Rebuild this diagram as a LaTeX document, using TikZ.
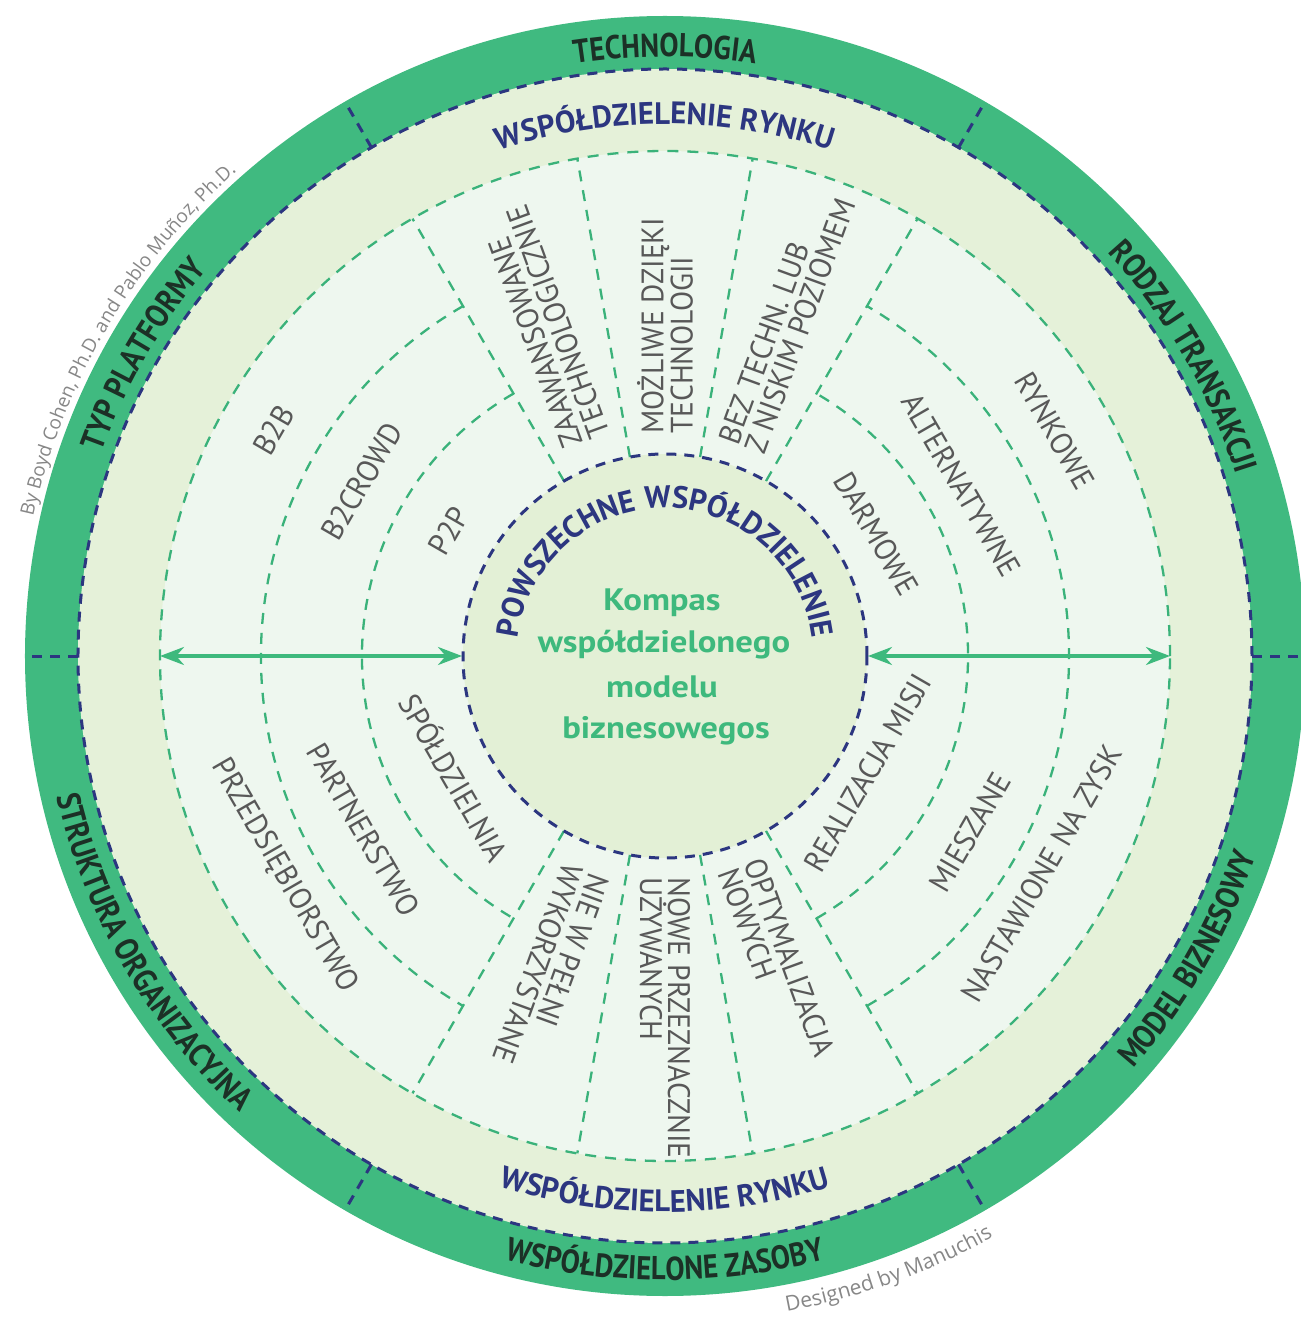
\documentclass[tikz,border=0pt]{standalone}
\usepackage{fontspec}
\usetikzlibrary{decorations.text,arrows.meta}
\newfontfamily\ringfont[FakeStretch=0.87]{PT Sans}
\newfontfamily\bandfont[FakeStretch=0.99]{PT Sans}
\newfontfamily\labfont[FakeStretch=0.95]{PT Sans}
\newfontfamily\centerfont[FakeStretch=1.12]{PT Sans}
\newfontfamily\creditfont{Open Sans}
\definecolor{ringgreen}{RGB}{64,186,128}
\definecolor{bandyellow}{RGB}{229,241,217}
\definecolor{innermint}{RGB}{238,247,239}
\definecolor{centerfill}{RGB}{227,240,214}
\definecolor{darkblue}{RGB}{44,54,128}
\definecolor{dashgreen}{RGB}{58,178,122}
\definecolor{labelgray}{RGB}{88,88,88}
\definecolor{ringtext}{RGB}{28,48,38}
\definecolor{creditgray}{RGB}{135,135,135}
\definecolor{centergreen}{RGB}{62,185,125}
% #1 centre angle, #2 half span, #3 radius, #4 format, #5 text
\newcommand\cwtext[5]{%
  \path[decorate,decoration={text along path,text align=center,text={|#4|#5}}]
    ({#1+#2}:#3) arc[start angle={#1+#2},end angle={#1-#2},radius=#3];}
\newcommand\ccwtext[5]{%
  \path[decorate,decoration={text along path,text align=center,text={|#4|#5}}]
    ({#1-#2}:#3) arc[start angle={#1-#2},end angle={#1+#2},radius=#3];}
\newcommand\ringfmt{\ringfont\bfseries\fontsize{33}{33}\selectfont\color{ringtext}}
\newcommand\bandfmt{\bandfont\bfseries\fontsize{31}{31}\selectfont\color{darkblue}}
\newcommand\credfmt{\creditfont\fontsize{19}{19}\selectfont\color{creditgray}}
\newcommand\credbfmt{\creditfont\fontsize{21}{21}\selectfont\color{creditgray}}
\begin{document}
\begin{tikzpicture}[
  bluedash/.style={draw=darkblue,line width=3pt,dash pattern=on 10pt off 8pt},
  greendash/.style={draw=dashgreen,line width=2.3pt,dash pattern=on 11pt off 9pt},
  lab/.style={text=labelgray,font={\labfont\fontsize{31}{28}\selectfont},inner sep=0pt,align=left},
  ctext/.style={text=centergreen,font={\centerfont\bfseries\fontsize{31}{31}\selectfont},inner sep=0pt,anchor=base},
  compassarrow/.style={draw=centergreen,line width=3.5pt,
    {Stealth[length=24pt,width=18pt]}-{Stealth[length=24pt,width=18pt]}}
]
\useasboundingbox (-665pt,-664pt) rectangle (636pt,656pt);
\fill[white] (-665pt,-664pt) rectangle (636pt,656pt);
% discs
\fill[ringgreen] (0,0) circle[radius=640pt];
\fill[bandyellow] (0,0) circle[radius=587pt];
\fill[innermint] (0,0) circle[radius=505pt];
\fill[centerfill] (0,0) circle[radius=202pt];
% green dashed structure
\draw[greendash] (0,0) circle[radius=505pt];
\foreach \r in {303,404}{
  \draw[greendash] (120:\r pt) arc[start angle=120,end angle=240,radius=\r pt];
  \draw[greendash] (-60:\r pt) arc[start angle=-60,end angle=60,radius=\r pt];
}
\foreach \a in {60,80,100,120,240,260,280,300}
  \draw[greendash] (\a:202pt) -- (\a:505pt);
% dark blue dashed
\draw[bluedash] (0,0) circle[radius=587pt];
\draw[bluedash] (0,0) circle[radius=202pt];
\foreach \a in {0,60,120,180,240,300}
  \draw[bluedash] (\a:587pt) -- (\a:640pt);
% arrows
\coordinate (LA) at (180:505pt);
\coordinate (LB) at (180:203pt);
\coordinate (RA) at (0:203pt);
\coordinate (RB) at (0:505pt);
\draw[compassarrow] (LA) -- (LB);
\draw[compassarrow] (RA) -- (RB);
% outer ring labels
\cwtext{90}{60}{599pt}{\ringfmt}{TECHNOLOGIA}
\cwtext{30}{50}{599pt}{\ringfmt}{RODZAJ TRANSAKCJI}
\cwtext{150}{50}{599pt}{\ringfmt}{TYP PLATFORMY}
\ccwtext{270}{60}{624pt}{\ringfmt}{WSPÓŁDZIELONE ZASOBY}
\ccwtext{330}{50}{624pt}{\ringfmt}{MODEL BIZNESOWY}
\ccwtext{210}{50}{624pt}{\ringfmt}{STRUKTURA ORGANIZACYJNA}
% band labels
\cwtext{90}{50}{532pt}{\bandfmt}{WSPÓŁDZIELENIE RYNKU}
\ccwtext{270}{50}{556pt}{\bandfmt}{WSPÓŁDZIELENIE RYNKU}
% inner circle label
\cwtext{90}{89}{148pt}{\bandfmt}{POWSZECHNE WSPÓŁDZIELENIE}
% credits
\cwtext{149.5}{40}{647pt}{\credfmt}{By Boyd Cohen, Ph.D. and Pablo Muñoz, Ph.D.}
\ccwtext{290}{25}{667pt}{\credbfmt}{Designed by Manuchis}
% top sector labels
\node[lab,rotate=110,anchor=west] (zaaw) at (110:228pt) {ZAAWANSOWANE\\TECHNOLOGICZNIE};
\node[lab,rotate=90,anchor=west] (mozl) at (90:222pt) {MOŻLIWE DZIĘKI\\TECHNOLOGII};
\node[lab,rotate=70,anchor=west] (bez) at (70:222pt) {BEZ TECHN. LUB\\Z NISKIM POZIOMEM};
% bottom sector labels
\node[lab,rotate=250,anchor=west] (niew) at (250:228pt) {NIE W PEŁNI\\WYKORZYSTANE};
\node[lab,rotate=270,anchor=west] (nowe) at (270:221pt) {NOWE PRZEZNACZNIE\\UŻYWANYCH};
\node[lab,rotate=290,anchor=west] (opty) at (290:222pt) {OPTYMALIZACJA\\NOWYCH};
% left/right sector labels
\node[lab,rotate=60] (b2b) at (150:452pt) {B2B};
\node[lab,rotate=60] (b2c) at (150:350pt) {B2CROWD};
\node[lab,rotate=60] (p2p) at (150:250pt) {P2P};
\node[lab,rotate=-60] (przed) at (210:440pt) {PRZEDSIĘBIORSTWO};
\node[lab,rotate=-60] (partn) at (210:348pt) {PARTNERSTWO};
\node[lab,rotate=-60] (spol) at (210:242pt) {SPÓŁDZIELNIA};
\node[lab,rotate=-60] (rynk) at (30:450pt) {RYNKOWE};
\node[lab,rotate=-60] (alt) at (30:342pt) {ALTERNATYWNE};
\node[lab,rotate=-60] (darm) at (30:244pt) {DARMOWE};
\node[lab,rotate=60] (nast) at (330:435pt) {NASTAWIONE NA ZYSK};
\node[lab,rotate=60] (mies) at (330:352pt) {MIESZANE};
\node[lab,rotate=60] (real) at (330:234pt) {REALIZACJA MISJI};
% centre text
\node[ctext] (c1) at (-3pt,46pt) {Kompas};
\node[ctext] (c2) at (-1pt,4pt) {współdzielonego};
\node[ctext] (c3) at (-3pt,-41pt) {modelu};
\node[ctext] (c4) at (1pt,-82pt) {biznesowegos};
\end{tikzpicture}
\end{document}
